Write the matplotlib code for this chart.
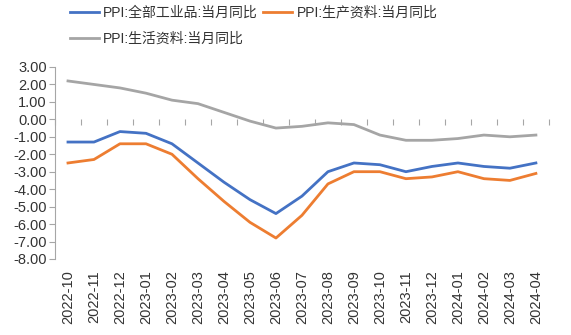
import matplotlib
matplotlib.use("Agg")
import matplotlib.pyplot as plt
from matplotlib.ticker import FuncFormatter, FixedLocator, NullFormatter

plt.rcParams['font.family'] = ['Liberation Sans', 'Noto Sans CJK SC', 'DejaVu Sans']

# data
months = ["2022-10", "2022-11", "2022-12", "2023-01", "2023-02", "2023-03",
          "2023-04", "2023-05", "2023-06", "2023-07", "2023-08", "2023-09",
          "2023-10", "2023-11", "2023-12", "2024-01", "2024-02", "2024-03",
          "2024-04"]
ppi_all = [-1.3, -1.3, -0.7, -0.8, -1.4, -2.5, -3.6, -4.6, -5.4, -4.4, -3.0,
           -2.5, -2.6, -3.0, -2.7, -2.5, -2.7, -2.8, -2.5]
ppi_prod = [-2.5, -2.3, -1.4, -1.4, -2.0, -3.4, -4.7, -5.9, -6.8, -5.5, -3.7,
            -3.0, -3.0, -3.4, -3.3, -3.0, -3.4, -3.5, -3.1]
ppi_life = [2.2, 2.0, 1.8, 1.5, 1.1, 0.9, 0.4, -0.1, -0.5, -0.4, -0.2, -0.3,
            -0.9, -1.2, -1.2, -1.1, -0.9, -1.0, -0.9]
names = ["PPI:全部工业品:当月同比", "PPI:生产资料:当月同比", "PPI:生活资料:当月同比"]

fig = plt.figure(figsize=(5.71, 3.35), dpi=100)
ax = fig.add_axes([0.0963, 0.227, 0.865, 0.573])

x = range(len(months))
l1, = ax.plot(x, ppi_all, color="#4472C4", lw=2.0, label=names[0])
l2, = ax.plot(x, ppi_prod, color="#ED7D31", lw=2.0, label=names[1])
l3, = ax.plot(x, ppi_life, color="#A5A5A5", lw=2.0, label=names[2])

ax.set_xlim(-0.5, len(months) - 0.5)
ax.set_ylim(-8, 3)
ax.set_yticks(range(-8, 4))
ax.yaxis.set_major_formatter(FuncFormatter(lambda v, p: f"{v:.2f}".replace("-0.00", "0.00")))

# axis styling
for s in ["top", "right", "bottom"]:
    ax.spines[s].set_visible(False)
ax.spines["left"].set_color("#A6A6A6")
ax.tick_params(axis="y", colors="#A6A6A6", length=4, labelcolor="#333333", labelsize=10.5, pad=2)
ax.set_xticks(list(x))
ax.set_xticklabels(months, rotation=90, fontsize=10.5, color="#333333")
ax.tick_params(axis="x", length=0, pad=8)

# zero line with category boundary ticks
sec = ax.secondary_xaxis(8 / 11)
sec.spines["bottom"].set_color("#A6A6A6")
sec.spines["top"].set_visible(False)
sec.xaxis.set_major_locator(FixedLocator([i - 0.5 for i in range(len(months) + 1)]))
sec.xaxis.set_major_formatter(NullFormatter())
sec.xaxis.set_ticks_position("bottom")
sec.tick_params(axis="x", colors="#A6A6A6", direction="out", length=4,
                labelbottom=False, labeltop=False)

fig.legend([l1, l3, l2], [names[0], names[2], names[1]], ncol=2, loc="upper left",
           bbox_to_anchor=(0.1, 1.02), frameon=False, fontsize=10,
           handlelength=2.1, handletextpad=0.3, columnspacing=0.4, labelspacing=0.85,
           labelcolor="#333333")

fig.savefig("out.png", dpi=100)
